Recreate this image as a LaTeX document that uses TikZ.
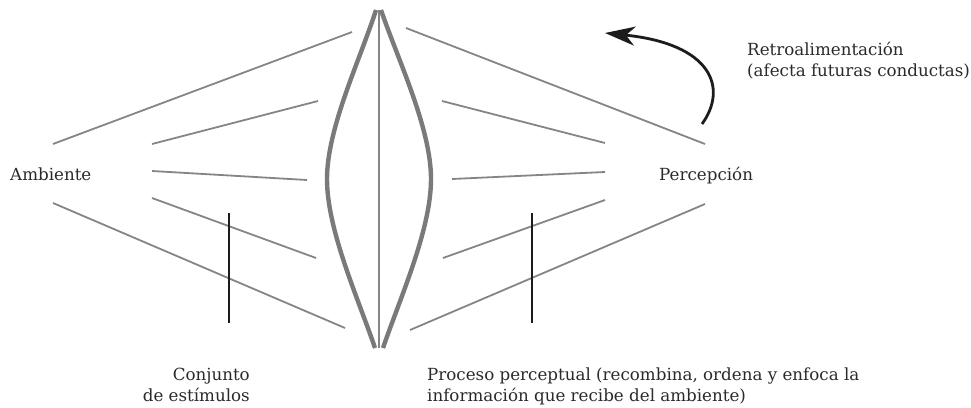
\documentclass[tikz,border=0pt]{standalone}
\usepackage{fontspec}
\setmainfont{DejaVu Serif}
\usetikzlibrary{arrows.meta}
\definecolor{raygray}{HTML}{858585}
\definecolor{lensgray}{HTML}{7A7A7A}
\definecolor{inkblack}{HTML}{1C1C1C}
\definecolor{textcol}{HTML}{2A2A2A}
\begin{document}
\begin{tikzpicture}[x=1pt,y=-1pt,
  ray/.style={draw=raygray,line width=1.8pt},
  lensline/.style={draw=lensgray,line width=4.4pt},
  axisline/.style={draw=raygray,line width=2pt},
  pointer/.style={draw=inkblack,line width=2pt},
  feedback/.style={draw=inkblack,line width=2.8pt,-{Stealth[length=30pt,width=19pt,inset=9pt]}},
  label/.style={inner sep=0pt,text=textcol,font=\fontsize{16.7}{20.5}\selectfont}]
\useasboundingbox (0,0) rectangle (971,407);

% end points of the rays on the environment side
\coordinate (l1a) at (53,144);  \coordinate (l1b) at (352,32);
\coordinate (l2a) at (152,144); \coordinate (l2b) at (318,101);
\coordinate (l3a) at (152,171); \coordinate (l3b) at (307,180);
\coordinate (l4a) at (152,198); \coordinate (l4b) at (316,258);
\coordinate (l5a) at (53,203);  \coordinate (l5b) at (345,328);
% end points of the rays on the perception side
\coordinate (r1a) at (406,28);  \coordinate (r1b) at (705,144);
\coordinate (r2a) at (442,101); \coordinate (r2b) at (605,143);
\coordinate (r3a) at (452,179); \coordinate (r3b) at (605,172);
\coordinate (r4a) at (443,258); \coordinate (r4b) at (605,200);
\coordinate (r5a) at (410,330); \coordinate (r5b) at (705,204);

\foreach \s in {l,r}{
  \foreach \i in {1,...,5}{
    \draw[ray] (\s\i a) -- (\s\i b);
  }
}

% the lens
\coordinate (lt) at (376,10);  \coordinate (lm) at (327,179); \coordinate (lb) at (375,348);
\coordinate (rt) at (381,10);  \coordinate (rm) at (431,179); \coordinate (rb) at (383,348);
\coordinate (ct) at (378.5,10); \coordinate (cb) at (378.5,348);
\draw[axisline] (ct) -- (cb);
\draw[lensline] (lt) .. controls (360,60) and (327,128) .. (lm)
                     .. controls (327,230) and (358,298) .. (lb);
\draw[lensline] (rt) .. controls (398,60) and (431,128) .. (rm)
                     .. controls (431,230) and (400,298) .. (rb);

% pointers to the captions
\coordinate (p1t) at (228.5,213); \coordinate (p1b) at (228.5,323);
\coordinate (p2t) at (531.5,213); \coordinate (p2b) at (531.5,323);
\draw[pointer] (p1t) -- (p1b);
\draw[pointer] (p2t) -- (p2b);

% feedback arrow
\coordinate (fs) at (702,124);
\coordinate (fe) at (605,33);
\draw[feedback] (fs) .. controls (728,88) and (712,44) .. (fe);

% labels
\node[label,anchor=base west] (amb) at (10,180) {Ambiente};
\node[label,anchor=base west] (per) at (659,180) {Percepción};
\node[label,anchor=north west,align=left] (ret) at (747,42) {Retroalimentación\\(afecta futuras conductas)};
\node[label,anchor=north east,align=right] (con) at (250,368) {Conjunto\\de estímulos};
\node[label,anchor=north west,align=left] (pro) at (427,368) {Proceso perceptual (recombina, ordena y enfoca la\\información que recibe del ambiente)};
\end{tikzpicture}
\end{document}
